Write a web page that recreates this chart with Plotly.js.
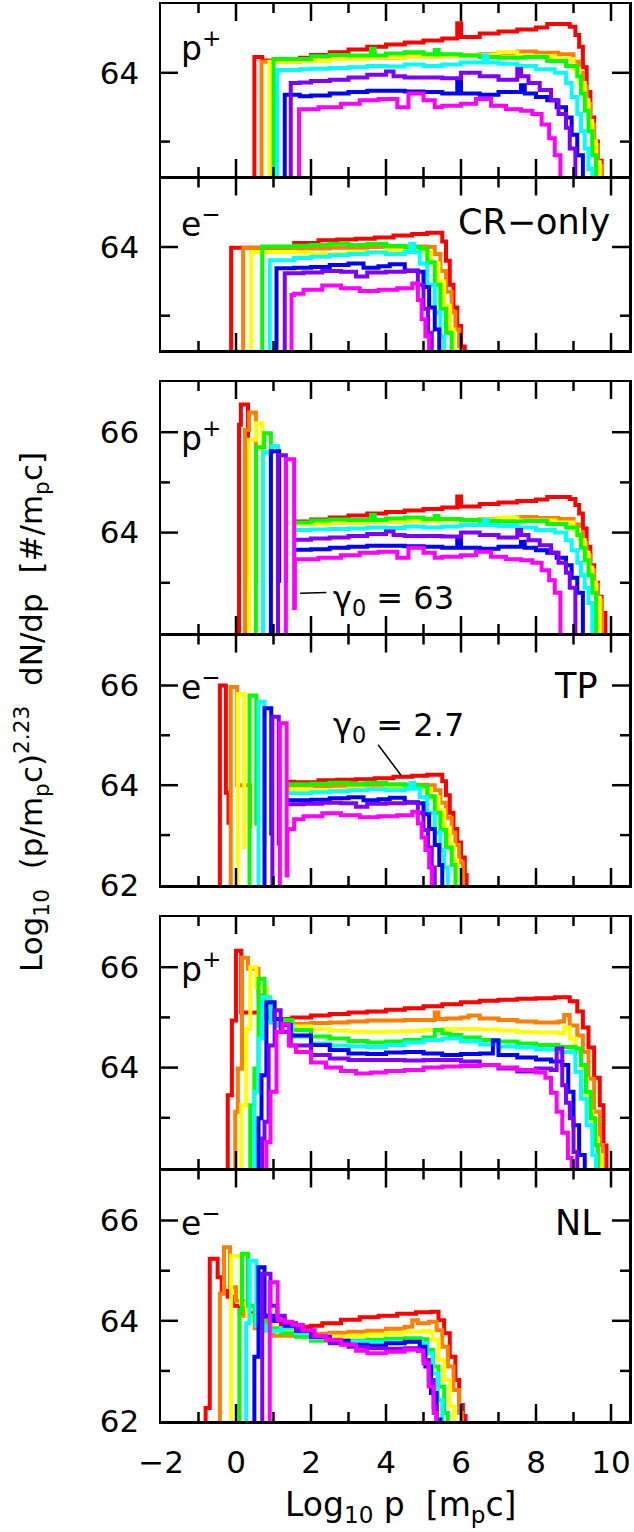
<!DOCTYPE html>
<html><head><meta charset="utf-8">
<script src="https://cdn.plot.ly/plotly-3.0.1.min.js"></script>
<style>html,body{margin:0;padding:0;background:#fff}#chart{width:634px;height:1532px}</style>
</head><body><div id="chart"></div>
<script>
// ---------- colours (one per curve, in drawing order) ----------
const COLORS = ['#ff0000','#ff8000','#ffff00','#00ff00','#00ffff','#0000ff','#8000ff','#ff00ff'];

// ---------- proton non-thermal part (shared by CR-only and TP panels) ----------
const pNT_x_red = [1.7,2.0,2.5,3.0,3.5,4.0,4.5,5.0,5.5,5.9,6.0,6.5,7.0,7.5,8.0,8.3,8.9,9.05,9.15,9.25,9.35,9.45,9.55,9.65,9.75,9.85];
const pNT_y_red = [64.22,64.26,64.3,64.34,64.38,64.41,64.44,64.47,64.5,64.72,64.52,64.57,64.6,64.63,64.66,64.71,64.67,64.55,64.38,64.08,63.72,63.35,63.0,62.72,62.4,61];
const pNT_x_org = [1.7,2.5,3.5,4.5,5.5,6.5,7.0,7.5,8.0,8.6,9.0,9.15,9.25,9.35,9.45,9.55,9.65,9.76];
const pNT_y_org = [64.18,64.2,64.22,64.24,64.25,64.27,64.28,64.31,64.29,64.27,64.16,64.0,63.8,63.55,63.25,62.95,62.65,61];
const pNT_x_yel = [1.7,2.5,3.5,4.5,5.5,6.5,7.0,7.5,8.5,9.0,9.15,9.3,9.4,9.5,9.6,9.7];
const pNT_y_yel = [64.17,64.2,64.22,64.23,64.24,64.26,64.3,64.24,64.2,64.05,63.85,63.6,63.3,63.0,62.7,61];
const pNT_x_grn = [1.7,2.0,2.5,3.0,3.6,3.7,4.0,4.5,5.0,5.3,5.4,6.0,6.5,7.0,7.7,8.3,8.8,9.1,9.2,9.3,9.4,9.5,9.6];
const pNT_y_grn = [64.2,64.24,64.26,64.25,64.35,64.25,64.28,64.3,64.27,64.33,64.27,64.25,64.23,64.22,64.23,64.17,64.1,63.95,63.7,63.45,63.15,62.8,61];
const pNT_x_cyn = [1.7,2.0,2.5,3.0,3.5,4.0,4.5,5.0,5.5,6.0,6.6,6.7,7.0,7.5,8.0,8.5,8.8,8.95,9.1,9.2,9.3,9.4,9.5];
const pNT_y_cyn = [64.05,64.06,64.07,64.08,64.1,64.09,64.12,64.1,64.12,64.15,64.25,64.15,64.13,64.1,64.05,64.0,63.85,63.65,63.4,63.15,62.9,62.6,61];
const pNT_x_blu = [1.7,2.0,2.5,3.0,3.5,4.0,4.5,5.0,5.5,5.9,6.0,6.5,7.0,7.6,7.7,8.0,8.3,8.55,8.8,8.95,9.1,9.25];
const pNT_y_blu = [63.66,63.67,63.7,63.72,63.74,63.74,63.73,63.72,63.7,63.87,63.7,63.68,63.72,63.82,63.7,63.65,63.6,63.5,63.35,63.1,62.8,61];
const pNT_x_pur = [1.7,2.0,2.5,3.0,3.5,4.0,4.2,4.5,5.0,5.5,6.0,6.5,7.0,7.5,7.6,7.8,8.1,8.4,8.6,8.8,8.9,9.05];
const pNT_y_pur = [63.86,63.88,63.9,63.93,63.97,64.02,63.95,63.93,63.93,63.92,64.0,63.95,63.9,64.05,63.95,63.85,63.75,63.6,63.4,63.2,62.9,61];
const pNT_x_mag = [1.7,2.2,2.8,3.3,3.8,4.3,4.6,5.0,5.3,5.5,6.0,6.4,6.8,7.2,7.6,7.9,8.15,8.35,8.5,8.65];
const pNT_y_mag = [63.47,63.5,63.55,63.6,63.62,63.5,63.7,63.6,63.5,63.52,63.55,63.62,63.52,63.47,63.45,63.4,63.25,63.05,62.8,61];

// ---------- proton CR-only start (injection edge) ----------
const crP_x_red = [0.49,0.49,0.7,1.2];  const crP_y_red = [61,64.23,64.18,64.2];
const crP_x_org = [0.68,0.68];          const crP_y_org = [61,64.16];
const crP_x_yel = [0.89,0.89];          const crP_y_yel = [61,64.16];
const crP_x_grn = [1.0,1.0];            const crP_y_grn = [61,64.2];
const crP_x_cyn = [1.1,1.1];            const crP_y_cyn = [61,64.04];
const crP_x_blu = [1.3,1.3];            const crP_y_blu = [61,63.68];
const crP_x_pur = [1.46,1.46];          const crP_y_pur = [61,63.85];
const crP_x_mag = [1.68,1.68];          const crP_y_mag = [61,63.47];

// ---------- proton TP thermal spikes ----------
const tpP_x_red = [0.08,0.08,0.13,0.32,null,1.57]; const tpP_y_red = [61,66.15,66.55,63.0,null,64.22];
const tpP_x_org = [0.24,0.24,0.35,0.53,null,1.57]; const tpP_y_org = [61,66.05,66.39,63.0,null,64.18];
const tpP_x_yel = [0.35,0.35,0.53,0.70,null,1.57]; const tpP_y_yel = [61,65.85,66.18,63.0,null,64.17];
const tpP_x_grn = [0.53,0.53,0.75,0.93,null,1.57]; const tpP_y_grn = [61,65.7,65.98,63.0,null,64.2];
const tpP_x_cyn = [0.72,0.72,0.96,1.12,null,1.57]; const tpP_y_cyn = [61,65.6,65.72,63.0,null,64.05];
const tpP_x_blu = [0.93,0.93,1.15,null,1.57];      const tpP_y_blu = [61,65.62,63.0,null,63.66];
const tpP_x_pur = [1.12,1.12,1.33,null,1.57];      const tpP_y_pur = [61,65.54,63.0,null,63.86];
const tpP_x_mag = [1.33,1.33,1.55,1.57];           const tpP_y_mag = [61,65.46,62.5,63.47];

// ---------- electron non-thermal part (shared by CR-only and TP panels) ----------
const eNT_x_red = [1.55,2.2,2.7,3.2,3.7,4.2,4.7,5.1,5.5,5.6,5.7,5.8,5.9,6.0,6.1,6.15];
const eNT_y_red = [64.06,64.1,64.11,64.12,64.14,64.17,64.19,64.21,64.08,63.8,63.45,63.12,62.85,62.55,62.2,61];
const eNT_x_org = [1.55,2.5,3.5,4.5,5.1,5.3,5.45,5.6,5.75,5.85,5.95,6.05];
const eNT_y_org = [63.98,63.99,64.0,64.01,64.0,63.9,63.65,63.35,63.05,62.8,62.45,61];
const eNT_x_yel = [1.55,2.0,3.0,4.0,4.9,5.2,5.4,5.55,5.7,5.8,5.9];
const eNT_y_yel = [63.92,63.9,63.93,63.95,63.92,63.76,63.5,63.15,62.8,62.5,61];
const eNT_x_grn = [1.55,2.0,2.5,3.0,3.5,4.0,4.5,4.9,5.1,5.3,5.45,5.6,5.75,5.85];
const eNT_y_grn = [64.02,64.03,64.05,64.03,64.05,64.02,64.0,63.98,63.78,63.45,63.1,62.75,62.4,61];
const eNT_x_cyn = [1.55,2.0,2.5,3.0,3.5,4.0,4.5,4.65,4.75,4.9,5.1,5.3,5.45,5.55,5.65];
const eNT_y_cyn = [63.84,63.86,63.88,63.9,63.92,63.9,63.93,64.05,63.93,63.76,63.45,63.05,62.7,62.35,61];
const eNT_x_blu = [1.55,2.0,2.5,3.0,3.4,3.8,4.1,4.5,4.85,5.0,5.15,5.3,5.42,5.5];
const eNT_y_blu = [63.7,63.71,63.74,63.76,63.7,63.72,63.75,63.66,63.64,63.42,63.12,62.8,62.4,61];
const eNT_x_pur = [1.55,1.8,2.3,2.8,3.2,3.5,4.0,4.5,4.85,5.0,5.12,5.22,5.3];
const eNT_y_pur = [63.62,63.63,63.65,63.64,63.57,63.63,63.64,63.65,63.45,63.1,62.75,62.35,61];
const eNT_x_mag = [1.55,1.8,2.3,2.8,3.3,3.8,4.3,4.7,4.85,4.95,5.05,5.15,5.22];
const eNT_y_mag = [63.32,63.38,63.44,63.4,63.36,63.38,63.4,63.47,63.23,62.95,62.7,62.35,61];

// ---------- electron CR-only start ----------
const crE_x_red = [-0.13,-0.13]; const crE_y_red = [61,63.99];
const crE_x_org = [0.19,0.19];   const crE_y_org = [61,63.99];
const crE_x_yel = [0.4,0.4];     const crE_y_yel = [61,63.93];
const crE_x_grn = [0.7,0.7];     const crE_y_grn = [61,64.01];
const crE_x_cyn = [0.9,0.9];     const crE_y_cyn = [61,63.81];
const crE_x_blu = [1.08,1.08];   const crE_y_blu = [61,63.69];
const crE_x_pur = [1.3,1.3];     const crE_y_pur = [61,63.62];
const crE_x_mag = [1.48,1.48];   const crE_y_mag = [61,63.3];

// ---------- electron TP thermal spikes ----------
const tpE_x_red = [-0.43,-0.43,-0.27,-0.2,-0.14,null,1.37]; const tpE_y_red = [61,66.0,63.85,63.25,63.25,null,64.07];
const tpE_x_org = [-0.14,-0.14,0.03,0.38,null,1.37];        const tpE_y_org = [61,65.97,64.0,63.12,null,63.98];
const tpE_x_yel = [0.05,0.05,0.22,null,1.37];               const tpE_y_yel = [61,65.83,62.72,null,63.92];
const tpE_x_grn = [0.36,0.36,0.54,null,1.37];               const tpE_y_grn = [61,65.8,63.19,null,64.02];
const tpE_x_cyn = [0.6,0.6,0.76,null,1.37];                 const tpE_y_cyn = [61,65.67,62.79,null,63.84];
const tpE_x_blu = [0.76,0.76,0.94,null,1.37];               const tpE_y_blu = [61,65.54,62.99,null,63.7];
const tpE_x_pur = [0.97,0.97,1.14,null,1.37];               const tpE_y_pur = [61,65.37,62.79,null,63.62];
const tpE_x_mag = [1.17,1.17,1.35,1.37];                    const tpE_y_mag = [61,65.24,62.19,63.12];

// ---------- protons, NL ----------
const nlP_x_red = [-0.22,-0.22,-0.11,0.0,0.14,0.81,1.0,1.5,2.0,2.5,3.0,3.5,4.0,4.5,5.0,5.5,6.0,6.5,7.0,7.5,8.0,8.5,8.9,9.1,9.25,9.4,9.55,9.7,9.8,9.88];
const nlP_y_red = [61,63.45,64.94,66.33,65.1,65.0,64.97,65.0,65.04,65.07,65.1,65.12,65.15,65.18,65.22,65.26,65.3,65.33,65.35,65.37,65.38,65.4,65.32,65.12,64.8,64.4,63.8,63.25,62.45,61];
const nlP_x_org = [-0.02,-0.02,0.05,0.16,0.32,0.6,0.81,1.0,1.5,2.0,2.5,3.0,3.5,4.0,4.5,5.0,5.3,5.4,5.6,6.0,6.2,6.5,7.0,7.5,8.0,8.6,8.75,8.9,9.1,9.25,9.4,9.55,9.7,9.78];
const nlP_y_org = [61,63.12,63.98,66.19,65.97,65.44,65.04,64.9,64.87,64.89,64.9,64.92,64.94,64.94,64.95,64.95,65.1,64.97,64.98,65.0,65.04,64.98,64.95,64.92,64.9,64.92,65.05,64.84,64.64,64.31,63.78,63.12,62.46,61];
const nlP_x_yel = [0.14,0.14,0.27,0.38,0.54,0.81,1.0,1.5,2.0,2.5,3.0,3.5,4.0,4.5,5.0,5.5,6.0,6.5,7.0,7.5,8.0,8.6,8.75,8.9,9.05,9.2,9.35,9.5,9.65,9.75];
const nlP_y_yel = [61,63.25,64.77,66.0,65.6,65.24,64.9,64.82,64.77,64.74,64.72,64.71,64.72,64.73,64.75,64.77,64.77,64.76,64.74,64.71,64.7,64.68,64.8,64.58,64.31,63.78,63.12,62.59,62.26,61];
const nlP_x_grn = [0.38,0.38,0.49,0.6,0.76,1.0,1.5,2.0,2.5,3.0,3.5,4.0,4.5,5.0,5.3,5.5,5.7,6.0,6.5,7.0,7.5,8.0,8.6,9.05,9.2,9.33,9.46,9.58,9.65];
const nlP_y_grn = [61,63.25,63.98,65.77,65.1,64.95,64.75,64.62,64.58,64.53,64.5,64.52,64.55,64.6,64.75,64.68,64.65,64.6,64.55,64.52,64.48,64.45,64.41,64.38,64.05,63.52,62.99,62.46,61];
const nlP_x_cyn = [0.49,0.49,0.6,0.7,0.92,1.1,1.5,2.0,2.5,3.0,3.5,4.0,4.5,5.0,5.5,6.0,6.5,7.0,7.5,8.0,8.6,9.05,9.2,9.35,9.5,9.6];
const nlP_y_cyn = [61,63.52,64.58,65.4,64.9,64.84,64.62,64.48,64.44,64.42,64.41,64.45,64.5,64.55,64.58,64.52,64.46,64.42,64.4,64.36,64.31,63.91,63.38,62.85,62.26,61];
const nlP_x_blu = [0.6,0.6,0.68,0.81,1.03,1.2,1.46,2.0,2.5,3.0,3.5,4.0,4.5,5.0,5.5,6.0,6.5,6.85,7.0,7.5,8.0,8.4,8.7,8.86,9.0,9.15,9.3];
const nlP_y_blu = [61,62.99,63.85,65.3,64.97,64.85,64.64,64.45,64.35,64.28,64.27,64.3,64.31,64.28,64.25,64.27,64.28,64.54,64.25,64.2,64.16,64.12,64.05,63.52,62.85,62.26,61];
const nlP_x_pur = [0.7,0.7,0.76,0.87,1.03,1.19,1.46,2.0,2.5,3.0,3.5,4.0,4.5,5.0,5.5,6.0,6.5,7.0,7.5,8.0,8.4,8.55,8.7,8.8,8.9,9.0,9.1];
const nlP_y_pur = [61,62.59,62.92,64.44,65.14,64.71,64.44,64.25,64.18,64.15,64.15,64.15,64.14,64.15,64.15,64.12,64.05,63.98,63.92,63.98,63.95,64.38,63.65,63.3,62.99,62.32,61];
const nlP_x_mag = [0.81,0.81,0.92,1.08,1.24,1.41,1.6,2.0,2.4,2.8,3.2,3.6,4.0,4.5,5.0,5.5,6.0,6.5,7.0,7.5,8.0,8.25,8.4,8.55,8.7,8.85,8.95];
const nlP_y_mag = [61,62.52,63.52,64.71,64.87,64.44,64.31,64.1,64.0,63.93,63.88,63.9,63.93,63.95,64.0,64.02,64.03,64.05,64.0,63.95,63.9,63.8,63.5,63.12,62.7,62.2,61];

// ---------- electrons, NL ----------
const nlE_x_red = [-0.81,-0.81,-0.7,-0.49,-0.38,-0.22,-0.08,0.1,0.4,0.8,1.2,1.5,2.0,2.3,2.8,3.3,3.8,4.3,4.8,5.2,5.4,5.55,5.7,5.85,5.95,6.05,6.12];
const nlE_y_red = [61,62.26,65.24,64.87,64.6,64.48,64.3,64.15,64.1,64.0,63.92,63.88,63.9,63.95,64.02,64.07,64.1,64.14,64.17,64.18,64.01,63.75,63.28,62.82,62.32,62.1,61];
const nlE_x_org = [-0.43,-0.43,-0.32,-0.16,0.0,0.2,0.5,1.0,1.5,2.0,2.5,3.0,3.5,4.0,4.5,4.7,4.85,5.14,5.35,5.5,5.65,5.8,5.95,6.02];
const nlE_y_org = [61,64.54,65.47,64.67,64.4,64.1,63.85,63.7,63.72,63.74,63.76,63.78,63.8,63.84,63.88,64.01,63.95,63.98,63.81,63.48,63.09,62.62,62.16,61];
const nlE_x_yel = [-0.13,-0.13,0.14,0.3,0.6,1.0,1.5,2.0,2.5,3.0,3.5,4.0,4.5,5.0,5.14,5.24,5.4,5.55,5.7,5.82];
const nlE_y_yel = [61,65.3,64.34,64.1,63.9,63.8,63.78,63.7,63.68,63.7,63.72,63.75,63.78,63.8,63.78,63.62,63.22,62.82,62.29,61];
const nlE_x_grn = [0.09,0.09,0.16,0.32,0.5,0.8,1.2,1.6,2.0,2.5,3.0,3.5,4.0,4.5,4.92,5.1,5.25,5.4,5.55,5.65];
const nlE_y_grn = [61,64.21,65.34,64.3,64.0,63.85,63.75,63.68,63.6,63.58,63.6,63.62,63.64,63.65,63.63,63.42,63.09,62.69,62.16,61];
const nlE_x_cyn = [0.27,0.27,0.36,0.54,0.8,1.2,1.6,2.0,2.5,3.0,3.5,4.0,4.5,4.95,5.08,5.24,5.38,5.5];
const nlE_y_cyn = [61,63.95,65.2,63.9,63.8,63.85,63.75,63.65,63.6,63.58,63.57,63.58,63.58,63.55,63.35,62.95,62.42,61];
const nlE_x_blu = [0.49,0.49,0.6,0.76,1.0,1.3,1.6,2.0,2.5,3.0,3.5,4.0,4.5,4.9,5.05,5.2,5.35,5.45];
const nlE_y_blu = [61,63.28,65.07,64.1,64.0,63.9,63.8,63.68,63.6,63.52,63.5,63.55,63.58,63.48,63.09,62.56,62.03,61];
const nlE_x_pur = [0.7,0.7,0.92,1.1,1.3,1.6,2.0,2.5,3.0,3.5,4.0,4.5,4.85,5.0,5.14,5.27,5.35];
const nlE_y_pur = [61,64.94,64.3,64.1,63.95,63.82,63.68,63.55,63.48,63.45,63.44,63.45,63.4,63.22,62.82,62.29,61];
const nlE_x_mag = [0.9,0.9,1.11,1.3,1.5,1.78,2.1,2.4,2.8,3.2,3.5,4.0,4.5,4.85,5.0,5.14,5.27,5.35];
const nlE_y_mag = [61,64.77,64.01,63.98,63.92,63.81,63.7,63.62,63.52,63.4,63.35,63.38,63.42,63.4,63.15,62.69,62.16,61];

// ---------- axes / labels ----------
const X_RANGE = [-2, 10.48];
const Y_RANGES = [[62.5,65],[62.5,65],[62,67],[62,67],[62,67],[62,67]];
const Y_HIDDEN_LABELS = [[],[],['62'],[],['62'],[]];
const PANEL_SPECIES = ['p<sup>+</sup>','e<sup>\u2212</sup>','p<sup>+</sup>','e<sup>\u2212</sup>','p<sup>+</sup>','e<sup>\u2212</sup>'];
const MODEL_LABELS = ['CR\u2212only','TP','NL'];
const X_TITLE = 'Log<sub>10</sub> p\u00a0\u00a0[m<sub>p</sub>c]';
const Y_TITLE = 'Log<sub>10</sub>\u00a0\u00a0(p/m<sub>p</sub>c)<sup>2.23</sup>\u00a0\u00a0dN/dp\u00a0\u00a0[#/m<sub>p</sub>c]';
const GAMMA_LABELS = ['\u03b3<sub>0</sub> = 63','\u03b3<sub>0</sub> = 2.7'];
// pointer lines: [head x, head y, tail x, tail y] in the panel's data units
const GAMMA_POINTERS = [[1.71,62.79,2.45,62.81],[4.4,64.2,3.76,64.84]];

// ---------- layout geometry (pixels) ----------
const W = 634, H = 1532, L = 161, R = 5, T = 4, B = 111;
const PANEL_PX = [[4,176],[178.5,350],[382,633],[635.5,885],[917,1168],[1170.5,1421]];
const plotH = H - T - B;
const py = p => (H - B - p) / plotH;          // pixel row -> paper y
const px = p => (p - L) / (W - L - R);        // pixel col -> paper x
const MAJOR_LEN = 17, MINOR_LEN = 9, TICK_W = 2.5;

const FONT = 'DejaVu Sans, Arial, sans-serif';
const traces = [];
function add(xs, ys, c, k) {
  traces.push({x: xs, y: ys, type: 'scatter', mode: 'lines',
    line: {shape: 'hv', color: COLORS[c], width: 4},
    xaxis: 'x' + (k === 1 ? '' : k), yaxis: 'y' + (k === 1 ? '' : k)});
}
const keys = ['red','org','yel','grn','cyn','blu','pur','mag'];
const get = n => eval(n);
keys.forEach((k, c) => add(get('crP_x_'+k).concat(get('pNT_x_'+k)), get('crP_y_'+k).concat(get('pNT_y_'+k)), c, 1));
keys.forEach((k, c) => add(get('crE_x_'+k).concat(get('eNT_x_'+k)), get('crE_y_'+k).concat(get('eNT_y_'+k)), c, 2));
keys.forEach((k, c) => add(get('tpP_x_'+k).concat(get('pNT_x_'+k)), get('tpP_y_'+k).concat(get('pNT_y_'+k)), c, 3));
keys.forEach((k, c) => add(get('tpE_x_'+k).concat(get('eNT_x_'+k)), get('tpE_y_'+k).concat(get('eNT_y_'+k)), c, 4));
keys.forEach((k, c) => add(get('nlP_x_'+k), get('nlP_y_'+k), c, 5));
keys.forEach((k, c) => add(get('nlE_x_'+k), get('nlE_y_'+k), c, 6));

// inside tick marks on all four sides of every panel (major every 2, minor every 1),
// drawn as black line segments on each panel's own axes
const xPxPerUnit = (W - L - R) / (X_RANGE[1] - X_RANGE[0]);
for (let i = 0; i < 6; i++) {
  const s = i === 0 ? '' : String(i + 1);
  const yr = Y_RANGES[i];
  const yPxPerUnit = (PANEL_PX[i][1] - PANEL_PX[i][0]) / (yr[1] - yr[0]);
  const tx = [], ty = [];
  for (let v = Math.ceil(X_RANGE[0]); v <= Math.floor(X_RANGE[1]); v++) {
    if (v <= X_RANGE[0] || v >= X_RANGE[1]) continue;
    const d = ((v % 2 === 0) ? MAJOR_LEN : MINOR_LEN) / yPxPerUnit;
    tx.push(v, v, null, v, v, null);
    ty.push(yr[0], yr[0] + d, null, yr[1], yr[1] - d, null);
  }
  for (let v = Math.ceil(yr[0]); v <= Math.floor(yr[1]); v++) {
    if (v <= yr[0] || v >= yr[1]) continue;
    const d = ((v % 2 === 0) ? MAJOR_LEN : MINOR_LEN) / xPxPerUnit;
    tx.push(X_RANGE[0], X_RANGE[0] + d, null, X_RANGE[1], X_RANGE[1] - d, null);
    ty.push(v, v, null, v, v, null);
  }
  traces.push({x: tx, y: ty, type: 'scatter', mode: 'lines',
    line: {color: '#000', width: TICK_W, shape: 'linear'},
    xaxis: 'x' + s, yaxis: 'y' + s});
}

const layout = {
  width: W, height: H, margin: {l: L, r: R, t: T, b: B}, showlegend: false,
  font: {family: FONT, size: 31, color: '#000'},
  annotations: []
};
for (let i = 0; i < 6; i++) {
  const k = i + 1, s = k === 1 ? '' : String(k);
  const base = () => ({showline: true, linecolor: '#000', linewidth: 2.5, mirror: true,
    ticks: '', tickmode: 'linear', tick0: 0, dtick: 2,
    showgrid: false, zeroline: false, fixedrange: true,
    tickfont: {family: FONT, size: 31, color: '#000'}, ticklabelstandoff: 12});
  const xa = Object.assign(base(), {range: X_RANGE, domain: [0, 1], anchor: 'y' + s});
  if (k !== 6) xa.showticklabels = false;
  const ya = Object.assign(base(), {range: Y_RANGES[i], domain: [py(PANEL_PX[i][1]), py(PANEL_PX[i][0])],
    anchor: 'x' + s, ticklabelstandoff: 13});
  if (Y_HIDDEN_LABELS[i].length) {
    const alias = {};
    Y_HIDDEN_LABELS[i].forEach(v => { alias[v] = ' '; });
    ya.labelalias = alias;
  }
  layout['xaxis' + s] = xa;
  layout['yaxis' + s] = ya;
}
// species labels
const SPECIES_Y = [47, 222, 437, 685, 967, 1221];
PANEL_SPECIES.forEach((t, i) => layout.annotations.push({
  text: t, xref: 'paper', yref: 'paper', x: px(179), y: py(SPECIES_Y[i]),
  xanchor: 'left', yanchor: 'middle', showarrow: false, font: {size: 33}}));
const MODEL_POS = [[612, 222], [600, 686], [603, 1223]];
MODEL_LABELS.forEach((t, i) => layout.annotations.push({
  text: t, xref: 'paper', yref: 'paper', x: px(MODEL_POS[i][0]), y: py(MODEL_POS[i][1]),
  xanchor: 'right', yanchor: 'middle', showarrow: false, font: {size: 35}}));
// gamma labels
layout.annotations.push({text: GAMMA_LABELS[0], xref: 'paper', yref: 'paper', x: px(331), y: py(600),
  xanchor: 'left', yanchor: 'middle', showarrow: false, font: {size: 32}});
layout.annotations.push({text: GAMMA_LABELS[1], xref: 'paper', yref: 'paper', x: px(331), y: py(727),
  xanchor: 'left', yanchor: 'middle', showarrow: false, font: {size: 32}});
// pointer lines (annotation arrows without heads)
GAMMA_POINTERS.forEach((p, i) => layout.annotations.push({
  text: '', x: p[0], y: p[1], ax: p[2], ay: p[3],
  xref: 'x' + (i + 3), yref: 'y' + (i + 3), axref: 'x' + (i + 3), ayref: 'y' + (i + 3),
  showarrow: true, arrowhead: 0, arrowwidth: 1.5, arrowcolor: '#000', standoff: 0, startstandoff: 0}));
// axis titles
layout.annotations.push({text: X_TITLE, xref: 'paper', yref: 'paper', x: px(400), y: py(1506),
  xanchor: 'center', yanchor: 'middle', showarrow: false, font: {size: 33}});
layout.annotations.push({text: Y_TITLE, xref: 'paper', yref: 'paper', x: px(31), y: py(712),
  xanchor: 'center', yanchor: 'middle', textangle: -90, showarrow: false, font: {size: 31}});

Plotly.newPlot('chart', traces, layout, {staticPlot: true, displayModeBar: false});
</script></body></html>
